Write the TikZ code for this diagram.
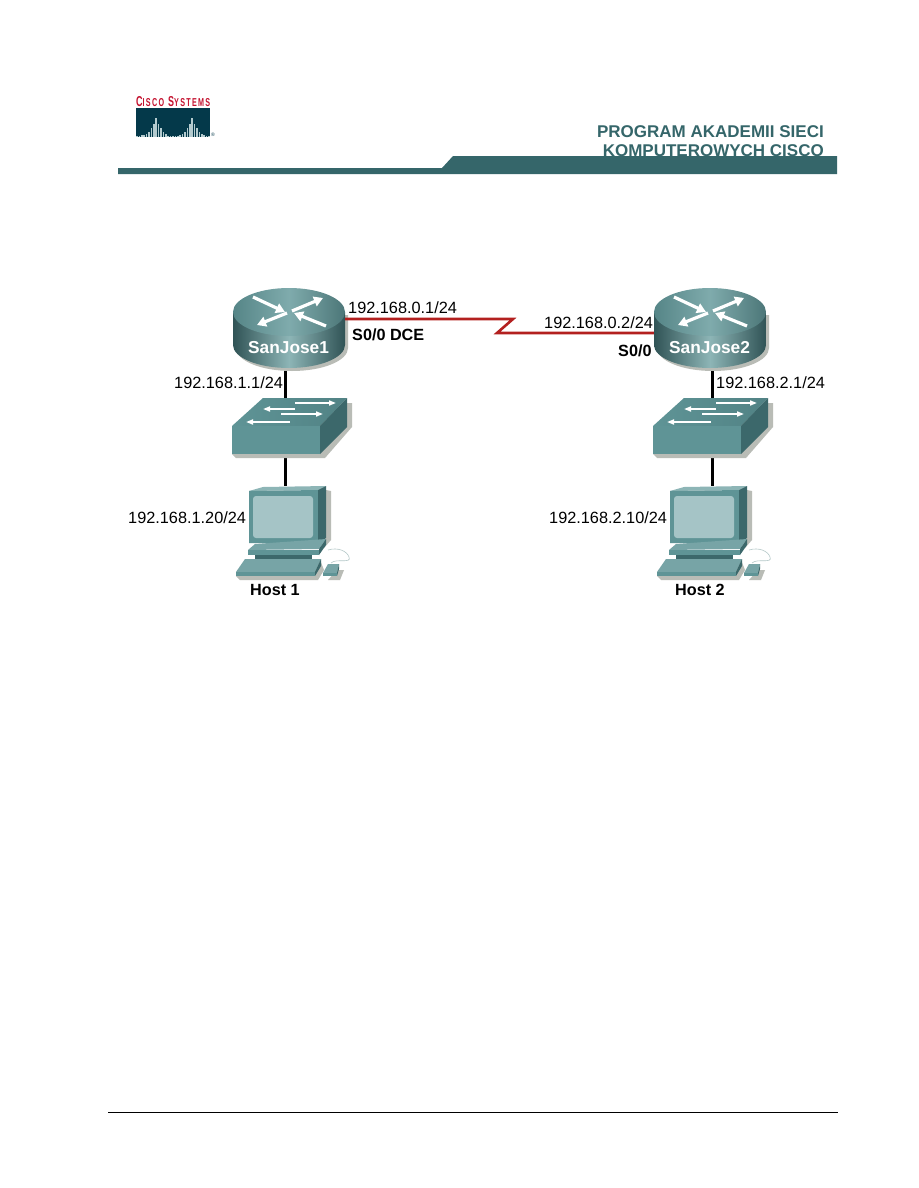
\documentclass[tikz,border=0pt]{standalone}
\usepackage{fontspec}
\setmainfont{Liberation Sans}
\usetikzlibrary{arrows.meta}
\definecolor{band}{HTML}{35666A}
\definecolor{sha}{HTML}{B9BCB6}
\definecolor{tface}{HTML}{5F9496}
\definecolor{tlite}{HTML}{8DB5B6}
\definecolor{tdark}{HTML}{3C686B}
\definecolor{logo}{HTML}{04394A}
\definecolor{logored}{HTML}{C4122F}
\definecolor{wan}{HTML}{B3201F}
\definecolor{screenc}{HTML}{A5C4C6}
\definecolor{barc}{HTML}{B4CBCF}
\definecolor{cordc}{HTML}{B5C8C8}
\tikzset{
  x=1pt,y=-1pt,
  addr/.style={font=\fontsize{16.3}{18}\selectfont,inner sep=0,anchor=base west,text=black},
  boldaddr/.style={addr,font=\fontsize{16.2}{18}\selectfont\bfseries},
  devlabel/.style={addr,font=\fontsize{17.3}{18}\selectfont\bfseries,text=white},
  hdr/.style={font=\fontsize{17}{18}\selectfont\bfseries,text=band,inner sep=0,anchor=base east},
  devbox/.style={inner sep=0,minimum width=#1},
  lan/.style={line width=3pt,black},
  wanline/.style={line width=2.6pt,wan,line join=miter},
  rarrow/.style={white,line width=3.2pt,-{Triangle[width=10pt,length=9pt]}},
  sarrow/.style={white,line width=1.6pt,-{Triangle[width=5pt,length=7pt]}},
  router/.pic={
    \fill[sha] (236,315) -- (236,348) arc[start angle=180,end angle=0,x radius=56,y radius=23] -- (348,315) -- cycle;
    \shade[left color=tdark!80!black,right color=tdark!80!black,middle color=tlite]
      (233,312) -- (233,345) arc[start angle=180,end angle=0,x radius=56,y radius=23] -- (345,312) -- cycle;
    \shade[left color=tface!90!black,right color=tface!80!black,middle color=tlite!70!tface]
      (289,312) ellipse[x radius=56,y radius=24];
    \draw[rarrow] (253,297) -- (285,312);
    \draw[rarrow] (292,311) -- (323,298);
    \draw[rarrow] (287,313) -- (257,325);
    \draw[rarrow] (326,326) -- (294,313);
  },
  switchdev/.pic={
    \fill[sha] (347,403) -- (352,403) -- (352,427) -- (325,458) -- (236,458) -- (232,454) -- cycle;
    \shade[left color=tface,right color=tface!60!tdark] (232,426) -- (263,398) -- (347,398) -- (320,426) -- cycle;
    \fill[tface] (232,426) rectangle (320,454);
    \fill[tdark] (320,426) -- (347,398) -- (347,427) -- (320,454) -- cycle;
    \draw[sarrow] (295,403) -- (336,403);
    \draw[sarrow] (295,409) -- (263,409);
    \draw[sarrow] (281,414) -- (323,414);
    \draw[sarrow] (290,422) -- (246,422);
  },
  pcdev/.pic={
    \fill[sha] (326,490) -- (331,491) -- (331,540) -- (324,548) -- (326,490) -- cycle;
    \fill[sha] (240,580) -- (318,580) -- (324,570) -- (320,560) -- (236,576) -- cycle;
    \fill[sha] (328,580) -- (340,580) -- (344,570) -- (337,570) -- cycle;
    \fill[tlite] (249,491) -- (263,487) -- (326,486) -- (318,490) -- cycle;
    \fill[tface] (249,491) -- (318,490) -- (318,543) -- (249,543) -- cycle;
    \fill[tdark] (318,490) -- (326,486) -- (326,538) -- (318,543) -- cycle;
    \fill[screenc,rounded corners=3pt] (253,496) rectangle (313,538);
    \fill[tface!85!white] (248,550) -- (255,544) -- (326,539) -- (319,549) -- cycle;
    \fill[tface] (248,550) rectangle (319,555);
    \fill[tdark] (319,549) -- (326,539) -- (326,545) -- (319,555) -- cycle;
    \fill[tdark] (255,555) rectangle (312,559);
    \fill[tface!85!white] (236,572) -- (245,559) -- (321,559) -- (315,572) -- cycle;
    \fill[tface] (236,572) rectangle (315,576);
    \fill[tdark] (315,572) -- (321,559) -- (321,566) -- (315,576) -- cycle;
    \fill[tface!85!white] (323,573) -- (328,564) -- (339,564) -- (337,573) -- cycle;
    \fill[tface] (323,573) rectangle (337,576);
    \fill[tdark] (337,573) -- (339,564) -- (339,569) -- (337,576) -- cycle;
    \draw[cordc,line width=.6pt] (331,563) .. controls (336,558) and (352,564) .. (349,557)
      .. controls (347,551) and (338,547) .. (328,550);
  },
}
\begin{document}
\begin{tikzpicture}
\useasboundingbox (0,0) rectangle (918,1188);
\fill[white] (0,0) rectangle (918,1188);
% logo
\node[inner sep=0,anchor=south west,text=logored] (logotext) at (136,106.5)
  {\resizebox{74pt}{10pt}{\bfseries\addfontfeature{LetterSpace=18}C{\footnotesize ISCO} S{\footnotesize YSTEMS}}};
\fill[logo] (136,108) rectangle (210,137);
\foreach \i/\h in {0/1,1/1,2/2,3/2,4/3,5/5,6/9,7/13,8/19,9/13,10/9,11/5,12/3,13/1,14/1,15/1,16/1,17/1,18/2,19/3,20/5,21/9,22/13,23/19,24/13,25/9,26/5,27/3,28/2,29/1,30/1}
  \fill[barc] ({136.2+2.4*\i},137) rectangle ({137.7+2.4*\i},{137-\h});
\node[inner sep=0,text=logo,font=\fontsize{5}{6}\selectfont] (reg) at (213,134.5) {®};
% header
\node[hdr] (h1) at (824,137) {PROGRAM AKADEMII SIECI};
\node[hdr] (h2) at (824,156) {KOMPUTEROWYCH CISCO};
\fill[band] (118,168) -- (442,168) -- (453,156) -- (837,156) -- (837,174) -- (118,174) -- cycle;
% device anchors (invisible boxes)
\node[devbox=112,minimum height=80] (r1) at (289,328) {};
\node[devbox=115,minimum height=56] (s1) at (289.5,426) {};
\node[devbox=77,minimum height=90] (p1) at (287.5,531) {};
\node[devbox=112,minimum height=80] (r2) at (710,328) {};
\node[devbox=115,minimum height=56] (s2) at (710.5,426) {};
\node[devbox=77,minimum height=90] (p2) at (708.5,531) {};
% connectors
\draw[lan] ([xshift=-4pt]r1.south) -- ([xshift=-4.5pt]s1.north);
\draw[lan] ([xshift=-4.5pt]s1.south) -- ([xshift=-2.5pt]p1.north);
\draw[lan] ([xshift=2pt]r2.south) -- ([xshift=1.5pt]s2.north);
\draw[lan] ([xshift=1.5pt]s2.south) -- ([xshift=3.5pt]p2.north);
% devices
\pic at (0,0) {router};
\pic at (0,0) {switchdev};
\pic at (0,0) {pcdev};
\pic at (421,0) {router};
\pic at (421,0) {switchdev};
\pic at (421,0) {pcdev};
% serial link
\coordinate (z1) at (513,319);
\coordinate (z2) at (497,333);
\draw[wanline] (r1.east |- z1) -- (z1) -- (z2) -- (r2.west |- z2);
% labels
\node[addr] (a1) at (348,313.5) {192.168.0.1/24};
\node[boldaddr] (a2) at (352,340.5) {S0/0 DCE};
\node[addr] (a3) at (174,388.5) {192.168.1.1/24};
\node[addr] (a4) at (128,523.5) {192.168.1.20/24};
\node[boldaddr] (a5) at (250,595.5) {Host 1};
\node[devlabel] (a6) at (248,353.5) {SanJose1};
\node[addr] (b1) at (544,328.5) {192.168.0.2/24};
\node[boldaddr] (b2) at (618,356.5) {S0/0};
\node[devlabel] (b3) at (669,353.5) {SanJose2};
\node[addr] (b4) at (716,388.5) {192.168.2.1/24};
\node[addr] (b5) at (549,523.5) {192.168.2.10/24};
\node[boldaddr] (b6) at (675,595.5) {Host 2};
% footer
\coordinate (f1) at (108,1112);
\coordinate (f2) at (838,1112);
\draw[black,line width=1pt] (f1) -- (f2);
\end{tikzpicture}
\end{document}
